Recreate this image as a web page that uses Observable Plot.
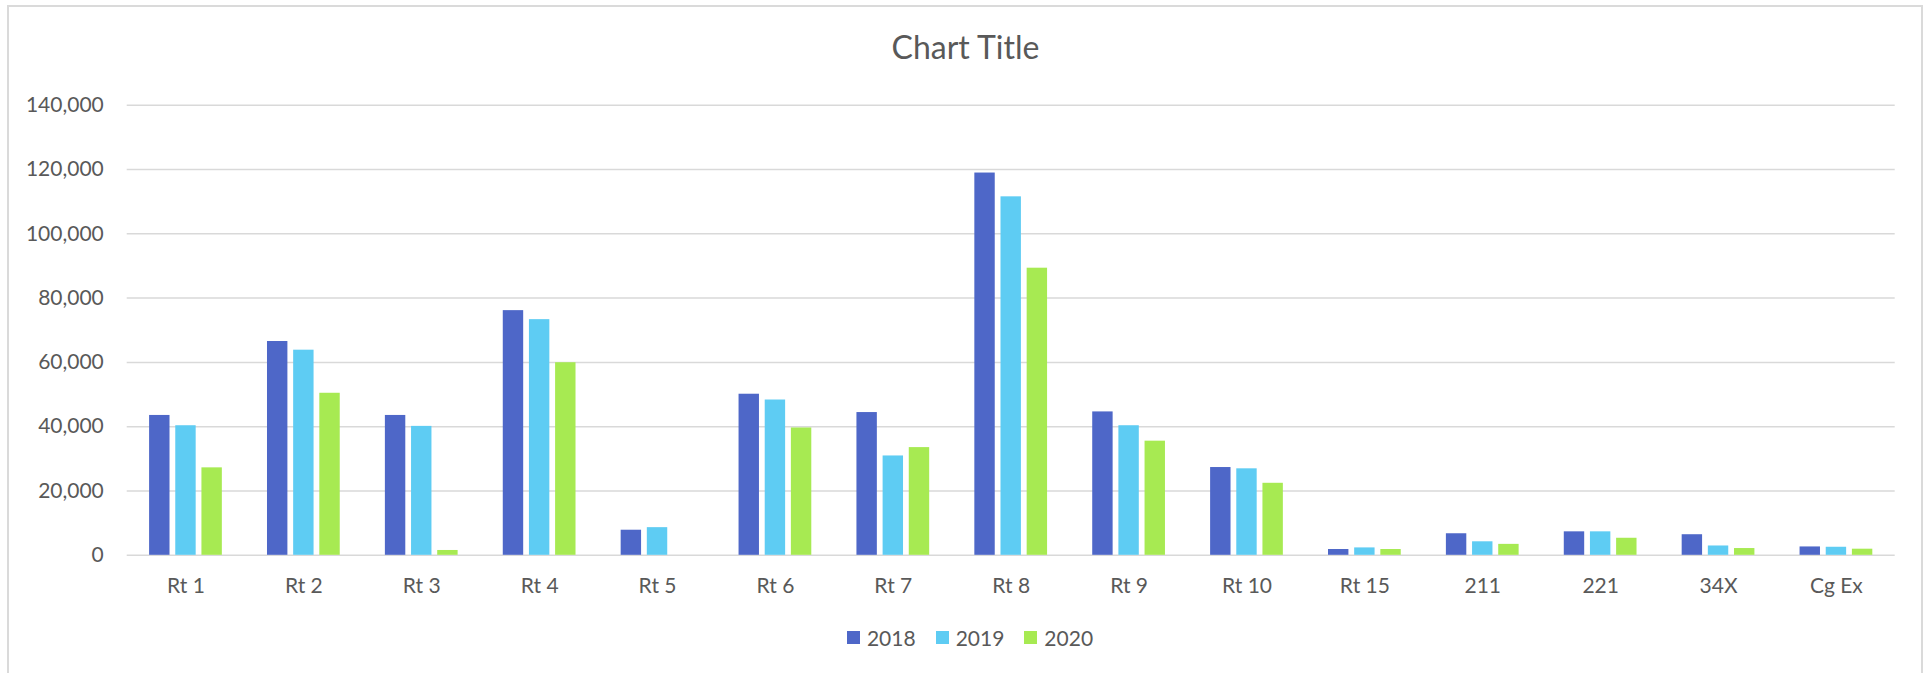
<!DOCTYPE html>
<html>
<head>
<meta charset="utf-8">
<script src="https://cdn.jsdelivr.net/npm/d3@7"></script>
<script src="https://cdn.jsdelivr.net/npm/@observablehq/plot@0.6"></script>
<style>
  html, body { margin: 0; padding: 0; background: #ffffff; }
  #page { position: relative; width: 1929px; height: 673px; overflow: hidden; background: #ffffff; font-family: Lato, "Open Sans", sans-serif; color: #595959; }
  #frame { position: absolute; left: 7px; top: 5px; width: 1916px; height: 720px; box-sizing: border-box; border: 2px solid #DADADA; }
  #title { position: absolute; left: 0; top: 27px; width: 1929px; text-align: center; font-size: 32px; line-height: 40px; padding-left: 2px; box-sizing: border-box; }
  #chart { position: absolute; left: 0; top: 0; }
  #legend { position: absolute; left: 0; top: 627px; width: 1929px; display: flex; justify-content: center; padding-left: 11px; box-sizing: border-box; font-size: 21px; line-height: 21px; }
  .item { display: flex; align-items: center; margin: 0 10px; }
  .swatch { width: 13px; height: 13px; margin-right: 7px; }
</style>
</head>
<body>
<div id="page">
  <div id="frame"></div>
  <div id="title">Chart Title</div>
  <div id="chart"></div>
  <div id="legend"></div>
</div>
<script>
// ---- Data ----
const categories = ["Rt 1", "Rt 2", "Rt 3", "Rt 4", "Rt 5", "Rt 6", "Rt 7", "Rt 8", "Rt 9", "Rt 10", "Rt 15", "211", "221", "34X", "Cg Ex"];
const years = ["2018", "2019", "2020"];
const values2018 = [43500, 66500, 43500, 76100, 7800, 50100, 44400, 118900, 44600, 27300, 1800, 6700, 7300, 6400, 2600];
const values2019 = [40300, 63800, 40100, 73300, 8600, 48300, 30900, 111500, 40300, 26900, 2300, 4200, 7300, 2900, 2500];
const values2020 = [27200, 50400, 1500, 59900, null, 39600, 33500, 89300, 35500, 22400, 1800, 3400, 5300, 2100, 1900];
const yTicks = [0, 20000, 40000, 60000, 80000, 100000, 120000, 140000];
const colors = ["#4E67C8", "#5ECCF3", "#A7EA52"];

// ---- Layout ----
const width = 1929, height = 620;
const marginLeft = 126.7, marginRight = 34.3, marginTop = 104.7, marginBottom = 65.2;
const paddingInner = 0.383, paddingOuter = 0.19, subPadding = 0.22;

// band geometry derived from the same (unrounded) scale parameters Plot uses
const probe = d3.scaleBand().domain(categories).range([marginLeft, width - marginRight]).paddingInner(paddingInner).paddingOuter(paddingOuter);
const bw = probe.bandwidth();
const sub = d3.scaleBand().domain(years).range([0, bw]).paddingInner(subPadding).paddingOuter(0);

const seriesValues = [values2018, values2019, values2020];
const barMarks = years.map((yr, i) => {
  const rows = categories.map((c, j) => ({category: c, year: yr, value: seriesValues[i][j]})).filter(d => d.value != null);
  const left = sub(yr);
  const right = bw - left - sub.bandwidth();
  return Plot.barY(rows, {x: "category", y: "value", fill: colors[i], insetLeft: left, insetRight: right});
});

const chart = Plot.plot({
  width, height, marginLeft, marginRight, marginTop, marginBottom,
  style: {fontFamily: "Lato, 'Open Sans', sans-serif", fontSize: "21px", color: "#595959", background: "transparent", overflow: "visible"},
  x: {type: "band", domain: categories, paddingInner, paddingOuter, round: false, tickSize: 0, tickPadding: 23, label: null},
  y: {domain: [0, 140000], nice: false, ticks: yTicks, tickFormat: d3.format(","), tickSize: 0, tickPadding: 23.4, label: null},
  marks: [
    Plot.ruleY(yTicks, {stroke: "#D9D9D9", strokeWidth: 1.5}),
    ...barMarks
  ]
});
document.getElementById("chart").appendChild(chart);

// ---- Legend ----
const legend = document.getElementById("legend");
years.forEach((yr, i) => {
  const item = document.createElement("div");
  item.className = "item";
  const sw = document.createElement("span");
  sw.className = "swatch";
  sw.style.background = colors[i];
  const label = document.createElement("span");
  label.textContent = yr;
  item.appendChild(sw);
  item.appendChild(label);
  legend.appendChild(item);
});
</script>
</body>
</html>
